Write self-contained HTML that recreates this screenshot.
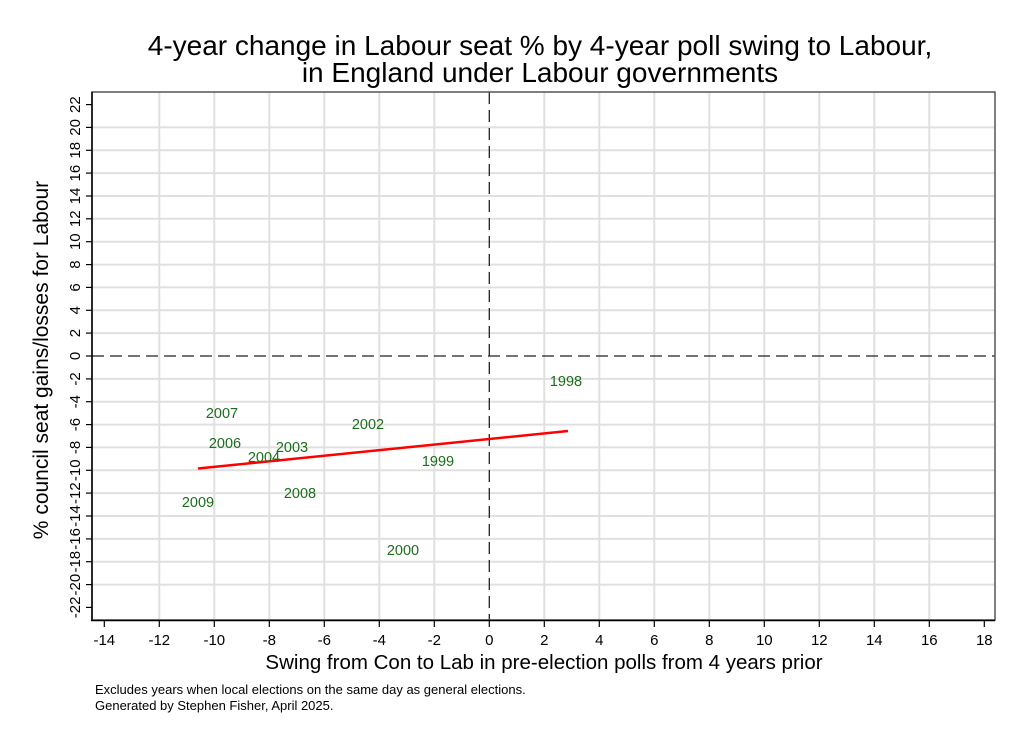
<!DOCTYPE html>
<html><head><style>body{margin:0;background:#fff}</style></head><body>
<svg width="1023" height="744" xmlns="http://www.w3.org/2000/svg" font-family="Liberation Sans, Arial, sans-serif">
<rect width="1023" height="744" fill="#fff"/>
<text x="540" y="55" font-size="28" text-anchor="middle">4-year change in Labour seat % by 4-year poll swing to Labour,</text>
<text x="540" y="82" font-size="28" text-anchor="middle">in England under Labour governments</text>
<g stroke="#e0e0e0" stroke-width="2">
<line x1="159.3" y1="92" x2="159.3" y2="620"/><line x1="214.3" y1="92" x2="214.3" y2="620"/><line x1="269.3" y1="92" x2="269.3" y2="620"/><line x1="324.3" y1="92" x2="324.3" y2="620"/><line x1="379.3" y1="92" x2="379.3" y2="620"/><line x1="434.3" y1="92" x2="434.3" y2="620"/><line x1="544.3" y1="92" x2="544.3" y2="620"/><line x1="599.3" y1="92" x2="599.3" y2="620"/><line x1="654.3" y1="92" x2="654.3" y2="620"/><line x1="709.3" y1="92" x2="709.3" y2="620"/><line x1="764.3" y1="92" x2="764.3" y2="620"/><line x1="819.3" y1="92" x2="819.3" y2="620"/><line x1="874.3" y1="92" x2="874.3" y2="620"/><line x1="929.3" y1="92" x2="929.3" y2="620"/>
<line x1="92" y1="127.4" x2="995" y2="127.4"/><line x1="92" y1="150.3" x2="995" y2="150.3"/><line x1="92" y1="173.1" x2="995" y2="173.1"/><line x1="92" y1="196" x2="995" y2="196"/><line x1="92" y1="218.8" x2="995" y2="218.8"/><line x1="92" y1="241.7" x2="995" y2="241.7"/><line x1="92" y1="264.6" x2="995" y2="264.6"/><line x1="92" y1="287.4" x2="995" y2="287.4"/><line x1="92" y1="310.3" x2="995" y2="310.3"/><line x1="92" y1="333.1" x2="995" y2="333.1"/><line x1="92" y1="378.9" x2="995" y2="378.9"/><line x1="92" y1="401.7" x2="995" y2="401.7"/><line x1="92" y1="424.6" x2="995" y2="424.6"/><line x1="92" y1="447.4" x2="995" y2="447.4"/><line x1="92" y1="470.3" x2="995" y2="470.3"/><line x1="92" y1="493.1" x2="995" y2="493.1"/><line x1="92" y1="516" x2="995" y2="516"/><line x1="92" y1="538.9" x2="995" y2="538.9"/><line x1="92" y1="561.7" x2="995" y2="561.7"/><line x1="92" y1="584.6" x2="995" y2="584.6"/>
</g>
<line x1="92" y1="356" x2="995" y2="356" stroke="#222" stroke-width="1.3" stroke-dasharray="12,6"/>
<line x1="489.3" y1="92" x2="489.3" y2="620" stroke="#222" stroke-width="1.3" stroke-dasharray="12,6"/>
<rect x="92" y="92" width="903" height="528" fill="none" stroke="#555" stroke-width="1.5"/>
<line x1="92" y1="92" x2="92" y2="621" stroke="#000" stroke-width="1.5"/>
<line x1="91" y1="620.5" x2="995" y2="620.5" stroke="#000" stroke-width="1.5"/>
<g stroke="#000" stroke-width="1.2">
<line x1="86" x2="92" y1="104.6" y2="104.6"/><line x1="86" x2="92" y1="127.4" y2="127.4"/><line x1="86" x2="92" y1="150.3" y2="150.3"/><line x1="86" x2="92" y1="173.1" y2="173.1"/><line x1="86" x2="92" y1="196" y2="196"/><line x1="86" x2="92" y1="218.8" y2="218.8"/><line x1="86" x2="92" y1="241.7" y2="241.7"/><line x1="86" x2="92" y1="264.6" y2="264.6"/><line x1="86" x2="92" y1="287.4" y2="287.4"/><line x1="86" x2="92" y1="310.3" y2="310.3"/><line x1="86" x2="92" y1="333.1" y2="333.1"/><line x1="86" x2="92" y1="356" y2="356"/><line x1="86" x2="92" y1="378.9" y2="378.9"/><line x1="86" x2="92" y1="401.7" y2="401.7"/><line x1="86" x2="92" y1="424.6" y2="424.6"/><line x1="86" x2="92" y1="447.4" y2="447.4"/><line x1="86" x2="92" y1="470.3" y2="470.3"/><line x1="86" x2="92" y1="493.1" y2="493.1"/><line x1="86" x2="92" y1="516" y2="516"/><line x1="86" x2="92" y1="538.9" y2="538.9"/><line x1="86" x2="92" y1="561.7" y2="561.7"/><line x1="86" x2="92" y1="584.6" y2="584.6"/><line x1="86" x2="92" y1="607.4" y2="607.4"/>
<line y1="621" y2="627" x1="104.3" x2="104.3"/><line y1="621" y2="627" x1="159.3" x2="159.3"/><line y1="621" y2="627" x1="214.3" x2="214.3"/><line y1="621" y2="627" x1="269.3" x2="269.3"/><line y1="621" y2="627" x1="324.3" x2="324.3"/><line y1="621" y2="627" x1="379.3" x2="379.3"/><line y1="621" y2="627" x1="434.3" x2="434.3"/><line y1="621" y2="627" x1="489.3" x2="489.3"/><line y1="621" y2="627" x1="544.3" x2="544.3"/><line y1="621" y2="627" x1="599.3" x2="599.3"/><line y1="621" y2="627" x1="654.3" x2="654.3"/><line y1="621" y2="627" x1="709.3" x2="709.3"/><line y1="621" y2="627" x1="764.3" x2="764.3"/><line y1="621" y2="627" x1="819.3" x2="819.3"/><line y1="621" y2="627" x1="874.3" x2="874.3"/><line y1="621" y2="627" x1="929.3" x2="929.3"/><line y1="621" y2="627" x1="984.3" x2="984.3"/>
</g>
<g font-size="15" text-anchor="middle">
<text x="104.3" y="645">-14</text><text x="159.3" y="645">-12</text><text x="214.3" y="645">-10</text><text x="269.3" y="645">-8</text><text x="324.3" y="645">-6</text><text x="379.3" y="645">-4</text><text x="434.3" y="645">-2</text><text x="489.3" y="645">0</text><text x="544.3" y="645">2</text><text x="599.3" y="645">4</text><text x="654.3" y="645">6</text><text x="709.3" y="645">8</text><text x="764.3" y="645">10</text><text x="819.3" y="645">12</text><text x="874.3" y="645">14</text><text x="929.3" y="645">16</text><text x="984.3" y="645">18</text>
</g>
<g font-size="15" text-anchor="middle">
<text transform="translate(80,104.6) rotate(-90)">22</text><text transform="translate(80,127.4) rotate(-90)">20</text><text transform="translate(80,150.3) rotate(-90)">18</text><text transform="translate(80,173.1) rotate(-90)">16</text><text transform="translate(80,196) rotate(-90)">14</text><text transform="translate(80,218.8) rotate(-90)">12</text><text transform="translate(80,241.7) rotate(-90)">10</text><text transform="translate(80,264.6) rotate(-90)">8</text><text transform="translate(80,287.4) rotate(-90)">6</text><text transform="translate(80,310.3) rotate(-90)">4</text><text transform="translate(80,333.1) rotate(-90)">2</text><text transform="translate(80,356) rotate(-90)">0</text><text transform="translate(80,378.9) rotate(-90)">-2</text><text transform="translate(80,401.7) rotate(-90)">-4</text><text transform="translate(80,424.6) rotate(-90)">-6</text><text transform="translate(80,447.4) rotate(-90)">-8</text><text transform="translate(80,470.3) rotate(-90)">-10</text><text transform="translate(80,493.1) rotate(-90)">-12</text><text transform="translate(80,516) rotate(-90)">-14</text><text transform="translate(80,538.9) rotate(-90)">-16</text><text transform="translate(80,561.7) rotate(-90)">-18</text><text transform="translate(80,584.6) rotate(-90)">-20</text><text transform="translate(80,607.4) rotate(-90)">-22</text>
</g>
<text transform="translate(48,360) rotate(-90)" font-size="21" text-anchor="middle">% council seat gains/losses for Labour</text>
<text x="544" y="669" font-size="20.5" text-anchor="middle">Swing from Con to Lab in pre-election polls from 4 years prior</text>
<text x="95" y="694" font-size="13">Excludes years when local elections on the same day as general elections.</text>
<text x="95" y="710" font-size="13">Generated by Stephen Fisher, April 2025.</text>
<line x1="198" y1="468.5" x2="568" y2="431" stroke="#f00" stroke-width="2.5"/>
<g font-size="14.5" fill="#1a6e1a" text-anchor="middle">
<text x="222" y="418">2007</text><text x="225" y="448">2006</text><text x="264" y="462">2004</text><text x="292" y="452">2003</text><text x="300" y="498">2008</text><text x="198" y="507">2009</text><text x="368" y="429">2002</text><text x="438" y="466">1999</text><text x="566" y="386">1998</text><text x="403" y="555">2000</text>
</g>
</svg>
</body></html>
